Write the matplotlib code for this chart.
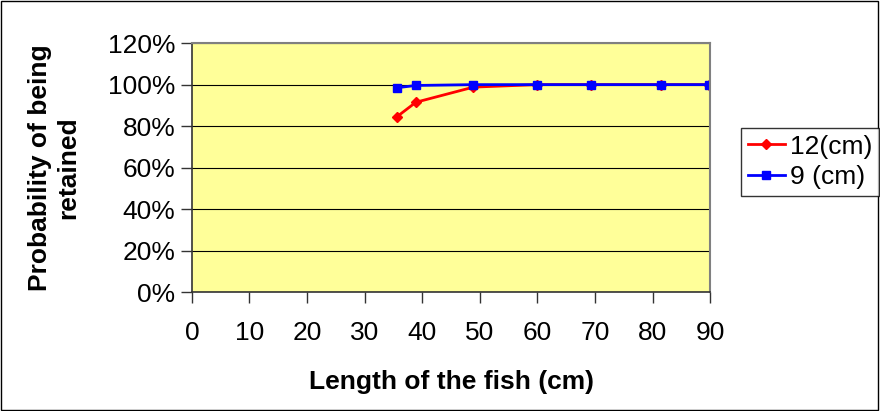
import matplotlib.pyplot as plt
from matplotlib.patches import Rectangle

plt.rcParams['font.family'] = ['Liberation Sans', 'DejaVu Sans']

# values
length_12 = [35.6, 38.9, 48.9, 59.9, 69.3, 81.4, 89.8]
prob_12 = [84.5, 91.5, 98.8, 100, 100, 100, 100]
length_9 = [35.6, 38.9, 48.9, 59.9, 69.3, 81.4, 89.8]
prob_9 = [98.5, 99.6, 100, 100, 100, 100, 100]
xticks = [0, 10, 20, 30, 40, 50, 60, 70, 80, 90]
yticks = [0, 20, 40, 60, 80, 100, 120]

fs = 19

fig = plt.figure(figsize=(8.8, 4.11), dpi=100)
ax = fig.add_axes([0.218, 0.2895, 0.589, 0.6055])
ax.set_facecolor('#FFFF99')

ax.plot(length_12, prob_12, color='#FF0000', marker='D', markersize=5, lw=2, label='12(cm)')
ax.plot(length_9, prob_9, color='#0000FF', marker='s', markersize=6, lw=2, label='9 (cm)')

ax.set_xlim(0, 90)
ax.set_ylim(0, 120)
ax.set_xticks(xticks)
ax.set_yticks(yticks)
ax.set_yticklabels([f'{v}%' for v in yticks])
ax.yaxis.grid(True, color='black', lw=0.8)
ax.set_axisbelow(True)
ax.tick_params(labelsize=fs, length=8, width=1, color='#333333', pad=4)
ax.tick_params(axis='x', pad=13)
for s in ['top', 'right']:
    ax.spines[s].set_color('#808080')
    ax.spines[s].set_linewidth(1.5)
for s in ['left', 'bottom']:
    ax.spines[s].set_color('#333333')
    ax.spines[s].set_linewidth(1.2)

ax.set_xlabel('Length of the fish (cm)', fontsize=fs, fontweight='bold', labelpad=18)
ax.set_ylabel('Probability of being\nretained', fontsize=fs, fontweight='bold', labelpad=20)

leg = fig.legend(*ax.get_legend_handles_labels(), loc='upper left',
                 bbox_to_anchor=(741 / 880, 1 - 128 / 411), fontsize=fs,
                 frameon=True, fancybox=False, edgecolor='black', handlelength=1.4,
                 borderpad=0.25, labelspacing=0.25, handletextpad=0.2, borderaxespad=0)
leg.get_frame().set_linewidth(1)

fig.patches.append(Rectangle((0.001, 0.002), 0.997, 0.995, transform=fig.transFigure,
                             fill=False, edgecolor='black', lw=1))

fig.savefig('out.png', dpi=100)
